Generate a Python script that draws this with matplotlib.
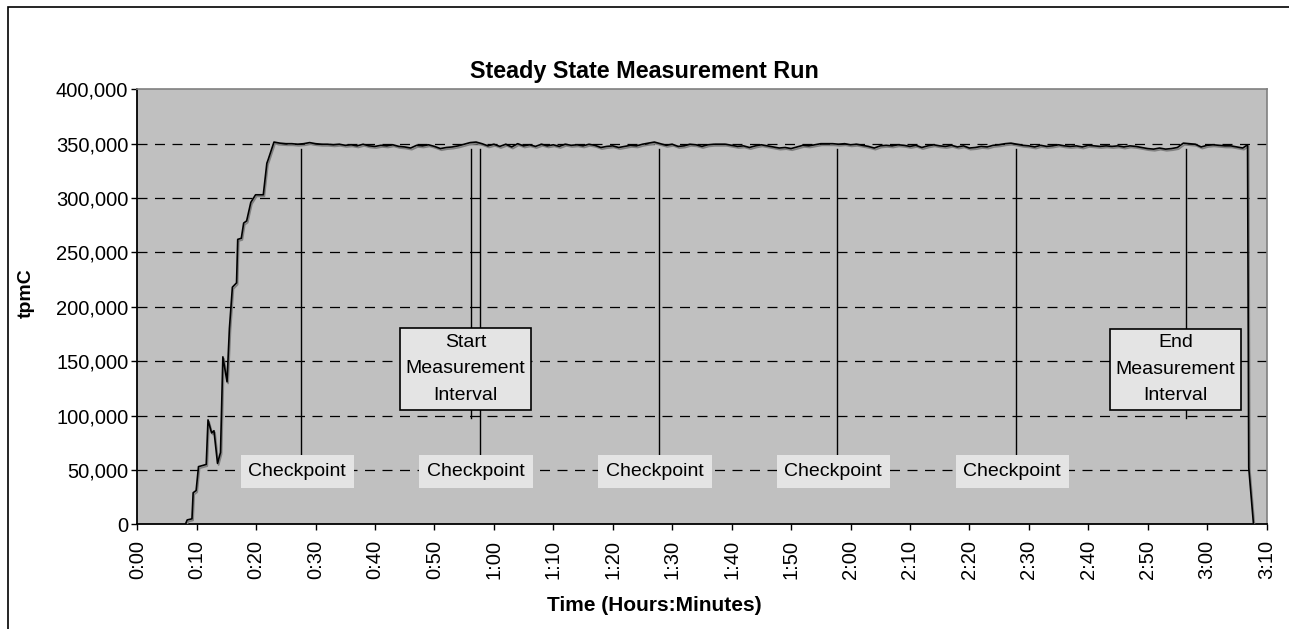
import matplotlib
matplotlib.use('Agg')
import matplotlib.pyplot as plt
import matplotlib.patheffects as pe
from matplotlib.patches import Rectangle
from matplotlib.ticker import FuncFormatter

plt.rcParams['font.family'] = ['Liberation Sans', 'DejaVu Sans']

# ramp-up (minutes, tpmC in thousands)
ramp_min = [8.1, 8.4, 9.2, 9.4, 9.9, 10.3, 11.6, 11.9, 12.5, 12.9, 13.5, 14.0,
            14.4, 15.1, 15.5, 16.0, 16.7, 16.9, 17.5, 17.9, 18.4, 19.1, 19.9,
            21.2, 21.8, 22.0]
ramp_k = [0, 4, 5, 29, 31, 53, 55, 96, 84, 86, 56, 66,
          154, 131, 180, 218, 222, 262, 263, 277, 279, 296, 303,
          303, 332, 335]

# steady state, one sample per minute from 0:23 to 3:06
steady_start = 23
steady_k = [
    351.5, 350.5, 350, 350, 349.5, 350, 351, 350, 349.5, 349.5,   # 23-32
    349, 349.5, 348.5, 349, 348, 349.5, 348, 347.5, 348.5, 348,   # 33-42
    349, 347.5, 347, 346, 348.5, 348, 349, 347.5, 345.5, 346.5,   # 43-52
    347, 348, 349.5, 351, 351.5, 350, 348, 349.5, 347.5, 349.5,   # 53-62
    347, 350, 348, 349, 347.5, 349.5, 348, 349, 347.5, 349.5,     # 63-72
    348.5, 349, 348, 349.5, 348.5, 346.5, 347.5, 348, 346.5, 347.5,  # 73-82
    348.5, 348, 349.5, 350.5, 351.5, 350, 348.5, 349.5, 347.5, 348,  # 83-92
    349.5, 349, 347.5, 349, 349.5, 349.5, 349.5, 348.5, 347.5, 348,  # 93-102
    346.5, 348, 349, 348, 347, 346, 346.5, 345.5, 347, 348.5,     # 103-112
    348, 349, 350, 350, 350, 349.5, 350, 349, 349.5, 348.5,       # 113-122
    347.5, 346, 348, 348.5, 348, 349, 348.5, 347.5, 348.5, 346.5,  # 123-132
    348, 349, 348, 347.5, 348.5, 347, 348, 346, 346.5, 347.5,     # 133-142
    347, 348.5, 349, 350, 350.5, 349.5, 348.5, 348, 347, 348.5,   # 143-152
    347.5, 348, 349, 348, 347.5, 348, 347, 348.5, 348, 347.5,     # 153-162
    348, 347.5, 348, 347, 348, 347.5, 346.5, 345.5, 345, 346,     # 163-172
    345, 345.5, 346.5, 350.5, 350, 349.5, 347, 348.5, 349, 348.5,  # 173-182
    348, 348, 347, 346,                                           # 183-186
]

# ramp-down
end_min = [186.8, 187.0, 187.8]
end_k = [349, 52, 0]

checkpoints = [27.5, 57.6, 87.7, 117.7, 147.8]
start_meas = 56.2
end_meas = 176.5

tick_labels = ['0:00', '0:10', '0:20', '0:30', '0:40', '0:50', '1:00', '1:10',
               '1:20', '1:30', '1:40', '1:50', '2:00', '2:10', '2:20', '2:30',
               '2:40', '2:50', '3:00', '3:10']

minutes = ramp_min + [steady_start + i for i in range(len(steady_k))] + end_min
tpmc = [v * 1000 for v in ramp_k + steady_k + end_k]

fig = plt.figure(figsize=(12.89, 6.29), dpi=100)
ax = fig.add_axes([0.1065, 0.1665, 0.8761, 0.6915])
ax.set_facecolor('#c0c0c0')

ax.set_xlim(0, 190)
ax.set_ylim(0, 400000)
ax.set_yticks(range(0, 400001, 50000))
ax.yaxis.set_major_formatter(FuncFormatter(lambda v, p: f'{int(v):,}'))
ax.set_xticks(range(0, 191, 10))
ax.set_xticklabels(tick_labels, rotation=90)

# dashed grid
for y in range(50000, 400000, 50000):
    ax.axhline(y, color='black', linewidth=0.9, dashes=(8, 6), zorder=1)

ax.plot(minutes, tpmc, color='black', linewidth=1.2, zorder=3,
        path_effects=[pe.SimpleLineShadow(offset=(0.8, -1.2), shadow_color='#808080', alpha=1),
                      pe.Normal()])

# annotation lines
for cp in checkpoints:
    ax.plot([cp, cp], [65000, 345000], color='black', linewidth=1.0, zorder=2)
for m in (start_meas, end_meas):
    ax.plot([m, m], [98000, 345000], color='black', linewidth=1.0, zorder=2)

for cp in checkpoints:
    ax.text(cp - 0.6, 48500, 'Checkpoint', ha='center', va='center', fontsize=14, zorder=4,
            bbox=dict(boxstyle='square,pad=0.4', facecolor='#e4e4e4', edgecolor='none'))
ax.text(start_meas - 1.0, 142800, 'Start\nMeasurement\nInterval', ha='center', va='center',
        fontsize=14, linespacing=1.72, zorder=4,
        bbox=dict(boxstyle='square,pad=0.3', facecolor='#e4e4e4', edgecolor='black', linewidth=1.2))
ax.text(end_meas - 1.8, 142500, 'End\nMeasurement\nInterval', ha='center', va='center',
        fontsize=14, linespacing=1.72, zorder=4,
        bbox=dict(boxstyle='square,pad=0.3', facecolor='#e4e4e4', edgecolor='black', linewidth=1.2))

for s in ('top', 'right'):
    ax.spines[s].set_color('#808080')
    ax.spines[s].set_linewidth(1.2)
for s in ('left', 'bottom'):
    ax.spines[s].set_color('black')
    ax.spines[s].set_linewidth(1.3)
ax.tick_params(axis='both', direction='out', length=4.5, width=1, labelsize=14.5)
ax.tick_params(axis='x', pad=7)
ax.tick_params(axis='y', pad=2)

fig.text(0.4996, 0.887, 'Steady State Measurement Run', ha='center', va='center',
         fontsize=16.8, fontweight='bold')
fig.text(0.508, 0.038, 'Time (Hours:Minutes)', ha='center', va='center',
         fontsize=15, fontweight='bold')
fig.text(0.0202, 0.534, 'tpmC', ha='center', va='center', rotation=90,
         fontsize=14, fontweight='bold')

# outer chart frame
fig.patches.append(Rectangle((8 / 1289, -0.1), 2, 1.1 - 7 / 629, transform=fig.transFigure,
                             fill=False, edgecolor='black', linewidth=1.2))

fig.savefig('out.png', dpi=100)
